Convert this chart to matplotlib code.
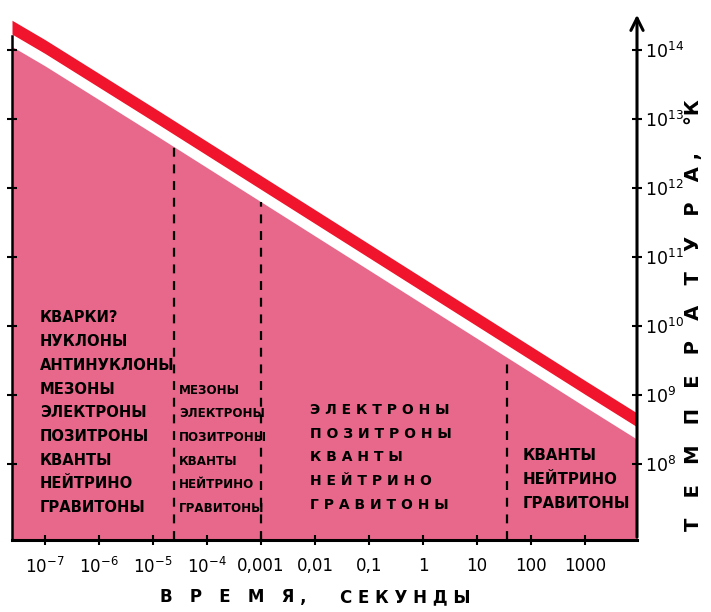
import numpy as np
import matplotlib.pyplot as plt

# time (s) and temperature (K)
time_s = [10**-7.61, 1e-7, 1e-5, 1e-3, 1e-1, 1e1, 1e3, 10**3.96]
temp_k = [10**14.33, 10**14.05, 10**13.07, 10**12.08, 10**11.09, 10**10.1, 10**9.11, 10**8.64]

# epoch boundaries (dashed lines)
boundaries = [2.4e-5, 1.0e-3, 36.0]

xticks = [1e-7, 1e-6, 1e-5, 1e-4, 1e-3, 1e-2, 1e-1, 1, 10, 100, 1000]
xtick_labels = [r'$10^{-7}$', r'$10^{-6}$', r'$10^{-5}$', r'$10^{-4}$',
                '0,001', '0,01', '0,1', '1', '10', '100', '1000']
yticks = [1e8, 1e9, 1e10, 1e11, 1e12, 1e13, 1e14]

col1 = ['КВАРКИ?', 'НУКЛОНЫ', 'АНТИНУКЛОНЫ', 'МЕЗОНЫ', 'ЭЛЕКТРОНЫ',
        'ПОЗИТРОНЫ', 'КВАНТЫ', 'НЕЙТРИНО', 'ГРАВИТОНЫ']
col2 = ['МЕЗОНЫ', 'ЭЛЕКТРОНЫ', 'ПОЗИТРОНЫ', 'КВАНТЫ', 'НЕЙТРИНО', 'ГРАВИТОНЫ']
col3 = ['Э Л Е К Т Р О Н Ы', 'П О З И Т Р О Н Ы', 'К В А Н Т Ы',
        'Н Е Й Т Р И Н О', 'Г Р А В И Т О Н Ы']
col4 = ['КВАНТЫ', 'НЕЙТРИНО', 'ГРАВИТОНЫ']

RED = '#f0142d'
PINK = '#e7688a'

fig = plt.figure(figsize=(7.11, 6.12), dpi=100)
ax = fig.add_axes([12/711, 72/612, 625/711, 528/612])
ax.set_xscale('log')
ax.set_yscale('log')
ax.set_xlim(10**-7.61, 10**3.96)
ax.set_ylim(10**6.9, 10**14.55)

t = np.array(time_s)
T = np.array(temp_k)

# filled region under the line, white gap, red band
ax.fill_between(t, T / 10**0.28, 10**6.9, color=PINK, lw=0, zorder=1)
ax.fill_between(t, T * 10**0.1, T / 10**0.1, color=RED, lw=0, zorder=2)

for b in boundaries:
    top = np.interp(np.log10(b), np.log10(t), np.log10(T)) - 0.28
    ax.plot([b, b], [10**6.9, 10**top], color='black', lw=1.6,
            dashes=(4, 3.5), zorder=3)

# axes
for s in ['top', 'right']:
    ax.spines[s].set_visible(False)
ax.spines['left'].set_linewidth(1.8)
ax.spines['bottom'].set_linewidth(2.2)
ax.spines['left'].set_bounds(10**6.9, 10**14.2)
ax.annotate('', xy=(1, 1.0), xytext=(1, 0), xycoords='axes fraction',
            arrowprops=dict(arrowstyle='->', lw=2.2, color='black',
                            mutation_scale=22), zorder=5)

ax.set_xticks(xticks)
ax.set_xticklabels(xtick_labels, fontsize=12)
ax.minorticks_off()
ax.set_yticks(yticks)
ax.set_yticklabels([r'$10^{%d}$' % k for k in range(8, 15)], fontsize=12.5)
ax.tick_params(axis='x', direction='inout', length=7, width=1.5, pad=9)
ax.tick_params(axis='y', direction='inout', length=7, width=1.5,
               left=True, right=True, labelleft=False, labelright=True,
               pad=2)
ax.minorticks_off()

fig.text(160/711, 15/612, 'В   Р   Е   М   Я ,', ha='left', va='center',
         fontsize=12, fontweight='bold')
fig.text(340/711, 15/612, 'С Е К У Н Д Ы', ha='left', va='center',
         fontsize=12, fontweight='bold')
fig.text(694/711, 297/612, 'Т   Е   М   П   Е   Р   А   Т   У   Р   А ,    °К',
         ha='center', va='center', rotation=90, fontsize=14, fontweight='bold')

def column(lines, x, y0, size, step=23.7):
    for i, s in enumerate(lines):
        fig.text(x/711, 1 - (y0 + i*step)/612, s, ha='left', va='center',
                 fontsize=size, fontweight='bold', zorder=6)

column(col1, 40, 318, 10.6)
column(col2, 179, 390, 8.6)
column(col3, 310, 410, 10)
column(col4, 523, 456, 10.8)

fig.savefig('out.png', dpi=100)
